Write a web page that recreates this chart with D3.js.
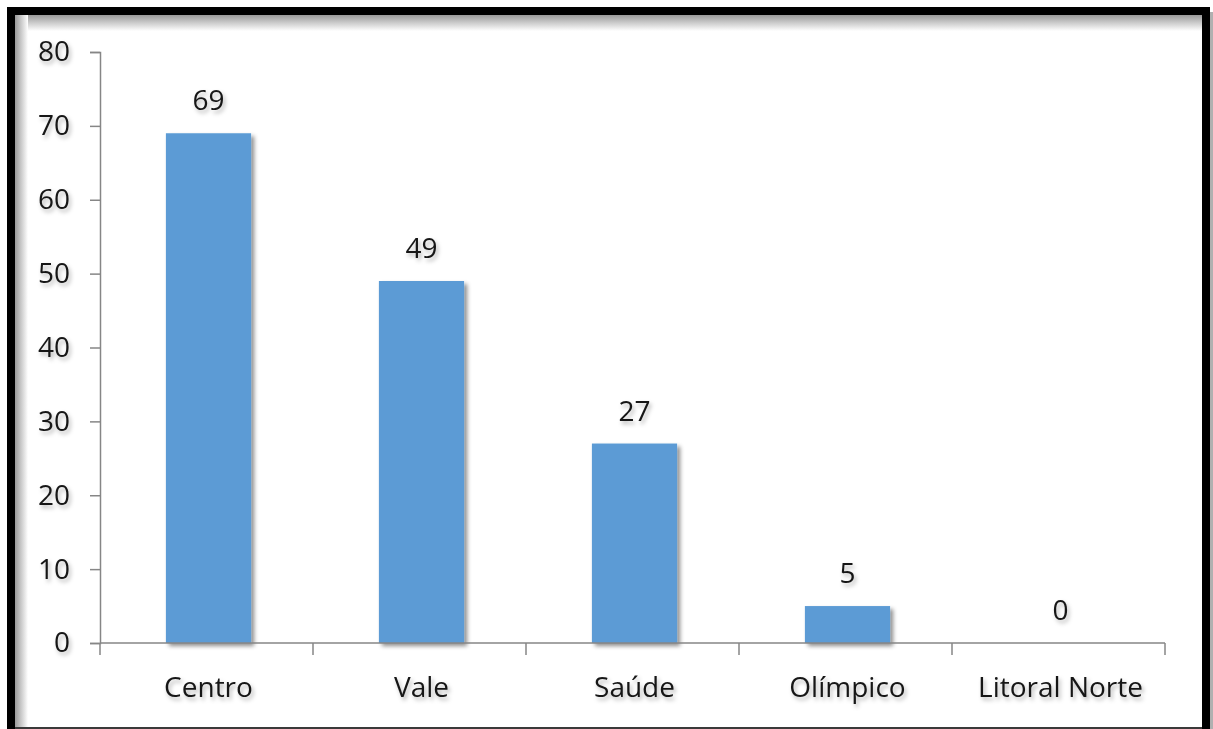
<!DOCTYPE html>
<html>
<head>
<meta charset="utf-8">
<script src="https://cdn.jsdelivr.net/npm/d3@7"></script>
<style>
  html, body { margin: 0; padding: 0; background: #ffffff; }
  svg { display: block; }
  text { font-family: "Open Sans", "Noto Sans", sans-serif; fill: #161616; }
</style>
</head>
<body>
<script>
// Regions and their counts
const categories = ["Centro", "Vale", "Saúde", "Olímpico", "Litoral Norte"];
const values = [69, 49, 27, 5, 0];
const yTicks = [0, 10, 20, 30, 40, 50, 60, 70, 80];

const W = 1213, H = 729;
const svg = d3.select("body").append("svg").attr("width", W).attr("height", H);
const defs = svg.append("defs");

// Soft drop shadows for bars and text
const barShadow = defs.append("filter").attr("id", "barShadow")
  .attr("x", "-20%").attr("y", "-20%").attr("width", "150%").attr("height", "150%");
barShadow.append("feDropShadow").attr("dx", 3).attr("dy", 3).attr("stdDeviation", 2.2)
  .attr("flood-color", "#000").attr("flood-opacity", 0.45);

const textShadow = defs.append("filter").attr("id", "textShadow")
  .attr("x", "-30%").attr("y", "-30%").attr("width", "170%").attr("height", "170%");
textShadow.append("feDropShadow").attr("dx", 2).attr("dy", 3).attr("stdDeviation", 2)
  .attr("flood-color", "#000").attr("flood-opacity", 0.3);

// Inner shading just inside the frame
const gTop = defs.append("linearGradient").attr("id", "gTop").attr("x1", 0).attr("y1", 0).attr("x2", 0).attr("y2", 1);
gTop.append("stop").attr("offset", "0%").attr("stop-color", "#9a9a9a");
gTop.append("stop").attr("offset", "100%").attr("stop-color", "#ffffff");
const gLeft = defs.append("linearGradient").attr("id", "gLeft").attr("x1", 0).attr("y1", 0).attr("x2", 1).attr("y2", 0);
gLeft.append("stop").attr("offset", "0%").attr("stop-color", "#9a9a9a");
gLeft.append("stop").attr("offset", "100%").attr("stop-color", "#ffffff");

svg.append("rect").attr("x", 15).attr("y", 15).attr("width", 1187).attr("height", 16).attr("fill", "url(#gTop)");
svg.append("rect").attr("x", 15).attr("y", 15).attr("width", 13).attr("height", 714).attr("fill", "url(#gLeft)");

// Frame
svg.append("rect").attr("x", 1210).attr("y", 12).attr("width", 3).attr("height", 717).attr("fill", "#b0b0b0");
svg.append("rect").attr("x", 7).attr("y", 7).attr("width", 8).attr("height", 722).attr("fill", "#000");
svg.append("rect").attr("x", 7).attr("y", 7).attr("width", 1203).attr("height", 8).attr("fill", "#000");
svg.append("rect").attr("x", 1202).attr("y", 7).attr("width", 8).attr("height", 722).attr("fill", "#000");
svg.append("rect").attr("x", 15).attr("y", 727).attr("width", 1187).attr("height", 2).attr("fill", "#3a3a3a");

// Scales
const x = d3.scaleBand().domain(categories).range([100, 1165]).paddingInner(0.6).paddingOuter(0.3);
const xCat = d3.scaleBand().domain(categories).range([100, 1165]).padding(0);
const y = d3.scaleLinear().domain([0, 80]).range([643, 52]);

const axisColor = "#868686";
const fontSize = 28;

// Bars
svg.append("g").selectAll("rect").data(values).join("rect")
  .attr("x", (d, i) => x(categories[i]) + 2)
  .attr("y", d => y(d))
  .attr("width", x.bandwidth())
  .attr("height", d => y(0) - y(d))
  .attr("fill", "#5b9bd5")
  .attr("filter", "url(#barShadow)");

// Y axis
const yAxis = svg.append("g").attr("transform", "translate(100,0)")
  .call(d3.axisLeft(y).tickValues(yTicks).tickSize(10).tickPadding(20).tickFormat(d3.format("d")));
yAxis.select(".domain").attr("stroke", axisColor).attr("stroke-width", 1.5);
yAxis.selectAll(".tick line").attr("stroke", axisColor).attr("stroke-width", 1.5);
yAxis.selectAll(".tick text")
  .attr("font-size", fontSize).attr("fill", "#161616")
  .style("font-family", "'Open Sans', sans-serif")
  .attr("filter", "url(#textShadow)");

// X axis: ticks at category boundaries
const xg = svg.append("g");
xg.append("line").attr("x1", 100).attr("x2", 1165).attr("y1", y(0)).attr("y2", y(0))
  .attr("stroke", axisColor).attr("stroke-width", 1.5);
const bounds = categories.map(c => xCat(c)).concat([xCat(categories[categories.length - 1]) + xCat.bandwidth()]);
xg.selectAll("line.tk").data(bounds).join("line").attr("class", "tk")
  .attr("x1", d => d).attr("x2", d => d).attr("y1", y(0)).attr("y2", y(0) + 12)
  .attr("stroke", axisColor).attr("stroke-width", 1.5);

// Category labels
svg.append("g").selectAll("text").data(categories).join("text")
  .attr("x", d => xCat(d) + xCat.bandwidth() / 2 + 2)
  .attr("y", 697)
  .attr("text-anchor", "middle")
  .attr("font-size", fontSize)
  .attr("filter", "url(#textShadow)")
  .text(d => d);

// Value labels
svg.append("g").selectAll("text").data(values).join("text")
  .attr("x", (d, i) => x(categories[i]) + x.bandwidth() / 2 + 2)
  .attr("y", d => y(d) - 23)
  .attr("text-anchor", "middle")
  .attr("font-size", fontSize)
  .attr("filter", "url(#textShadow)")
  .text(d => d);
</script>
</body>
</html>
